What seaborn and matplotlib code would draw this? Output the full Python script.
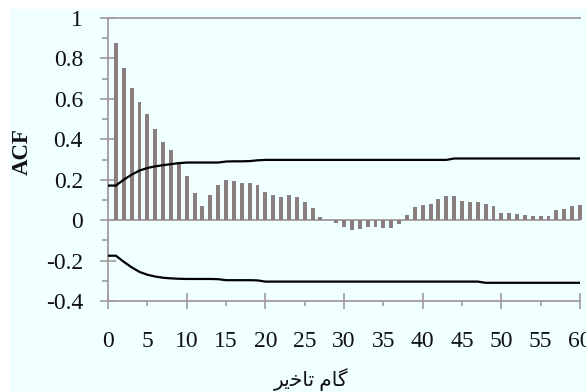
import matplotlib
matplotlib.use('Agg')
import matplotlib.pyplot as plt
import seaborn as sns
from matplotlib.ticker import MultipleLocator, FormatStrFormatter
from matplotlib.patches import Rectangle

# autocorrelation per lag
lags = list(range(1, 61))
acf = [0.878, 0.752, 0.655, 0.586, 0.523, 0.452, 0.388, 0.345, 0.289, 0.217,
       0.135, 0.072, 0.122, 0.175, 0.199, 0.193, 0.186, 0.186, 0.173, 0.140,
       0.122, 0.115, 0.122, 0.115, 0.091, 0.061, 0.016, 0.003, -0.013, -0.032,
       -0.049, -0.044, -0.032, -0.032, -0.039, -0.039, -0.019, 0.024, 0.063, 0.076,
       0.081, 0.103, 0.119, 0.119, 0.095, 0.088, 0.088, 0.081, 0.068, 0.037,
       0.037, 0.030, 0.024, 0.019, 0.019, 0.019, 0.050, 0.056, 0.070, 0.076]

# confidence bounds, lag 0..60
band_lags = list(range(0, 61))
upper = [0.171, 0.171, 0.200, 0.225, 0.245, 0.258, 0.266, 0.272, 0.277, 0.282,
         0.285, 0.285, 0.285, 0.285, 0.285, 0.290, 0.291, 0.291, 0.292, 0.296] + \
        [0.298] * 24 + [0.305] * 17
lower = [-0.176, -0.176, -0.206, -0.233, -0.256, -0.270, -0.279, -0.285, -0.288, -0.290,
         -0.291, -0.291, -0.291, -0.291, -0.292, -0.297, -0.297, -0.297, -0.297, -0.298] + \
        [-0.304] * 28 + [-0.310] * 13

y_ticks = [-0.4, -0.2, 0, 0.2, 0.4, 0.6, 0.8, 1]
y_labels = ['-0.4', '-0.2', '0', '0.2', '0.4', '0.6', '0.8', '1']
y_title = 'ACF'
# "گام تاخیر" written with presentation forms in visual order (matplotlib does no shaping)
x_title = '\uFEAE\uFBFE\uFEA7\uFE8E\uFE97 \uFEE1\uFE8E\uFB94'

sns.set_style('ticks')
plt.rcParams['font.family'] = ['Liberation Serif', 'DejaVu Sans']

grey = '#a39b9b'
fig = plt.figure(figsize=(5.86, 3.92), dpi=100)
fig.patches.append(Rectangle((10 / 586, 0), 1, 1 - 9 / 392, transform=fig.transFigure,
                             facecolor='#f0ffff', edgecolor='none', zorder=-10))
ax = fig.add_axes([108 / 586, 1 - 301 / 392, 472 / 586, 283 / 392])
ax.set_facecolor('none')

ax.axhline(0, color=grey, lw=1.3, zorder=1)
sns.barplot(x=lags, y=acf, native_scale=True, width=0.5, color='#8a7e7e',
            saturation=1, edgecolor='none', linewidth=0, ax=ax, zorder=2)
for p in ax.patches:
    p.set_clip_on(False)
sns.lineplot(x=band_lags, y=upper, color='black', lw=1.6, ax=ax, zorder=3)
sns.lineplot(x=band_lags, y=lower, color='black', lw=1.6, ax=ax, zorder=3)

ax.set_xlim(0, 60)
ax.set_ylim(-0.4, 1)
# long crossing ticks at 0,10,20..., short outer ones at 5,15,...; all labelled
ax.xaxis.set_major_locator(MultipleLocator(10))
ax.xaxis.set_minor_locator(MultipleLocator(5))
ax.xaxis.set_major_formatter(FormatStrFormatter('%d'))
ax.xaxis.set_minor_formatter(FormatStrFormatter('%d'))
ax.set_yticks(y_ticks)
ax.set_yticklabels(y_labels)
ax.yaxis.set_minor_locator(MultipleLocator(0.1))

for side in ['left', 'bottom', 'top']:
    ax.spines[side].set_color(grey)
    ax.spines[side].set_linewidth(1.3)
ax.spines['right'].set_visible(False)

ax.tick_params(axis='x', which='major', direction='inout', length=11.5, width=1.2, color=grey,
               pad=16, labelsize=17, labelcolor='#111111')
ax.tick_params(axis='x', which='minor', direction='out', length=3.8, width=1.2, color=grey,
               pad=17.9, labelsize=17, labelcolor='#111111')
ax.tick_params(axis='y', which='major', direction='inout', length=11, width=1.2, color=grey,
               pad=12.5, labelsize=17, labelcolor='#111111')
ax.tick_params(axis='y', which='minor', direction='out', length=4.3, width=1.2, color=grey)

ax.set_ylabel(y_title, fontsize=16.5, fontweight='bold', color='#111111')
ax.yaxis.set_label_coords(-0.16, 0.527)
ax.set_xlabel(x_title, fontsize=14.5, color='#111111')
ax.xaxis.set_label_coords(0.43, -0.237)

fig.savefig('out.png', dpi=100, facecolor='white')
